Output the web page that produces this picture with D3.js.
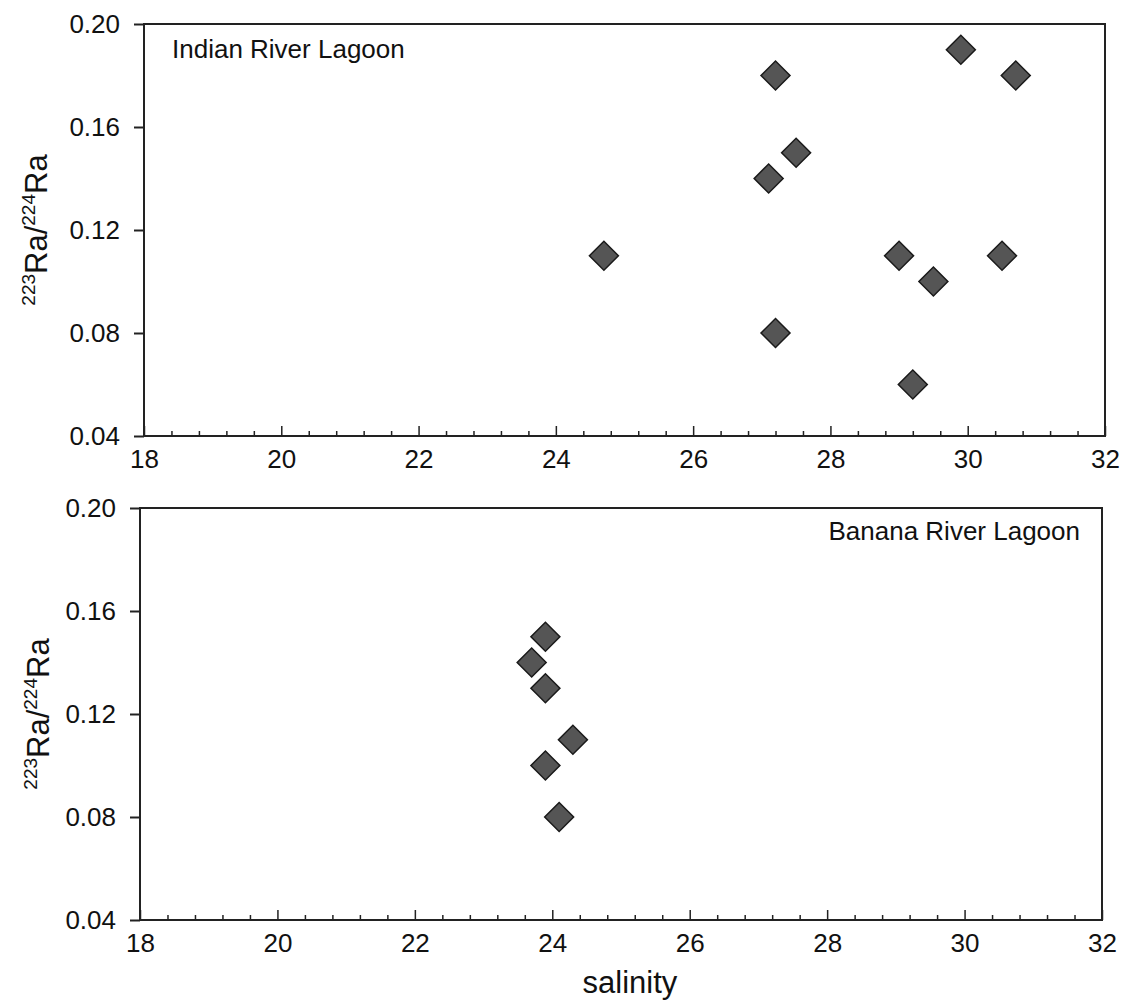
<!DOCTYPE html>
<html>
<head>
<meta charset="utf-8">
<script src="https://cdn.jsdelivr.net/npm/d3@7"></script>
<style>
  body { margin: 0; background: #fff; }
  svg { display: block; font-family: "Liberation Sans", Arial, sans-serif; }
</style>
</head>
<body>
<svg id="chart" width="1123" height="1001"></svg>
<script>
// Indian River Lagoon (top panel)
const irlSalinity = [24.7, 27.2, 27.5, 27.1, 27.2, 29.0, 29.5, 29.2, 29.9, 30.7, 30.5];
const irlRatio    = [0.11, 0.18, 0.15, 0.14, 0.08, 0.11, 0.10, 0.06, 0.19, 0.18, 0.11];

// Banana River Lagoon (bottom panel)
const brlSalinity = [23.9, 23.7, 23.9, 24.3, 23.9, 24.1];
const brlRatio    = [0.15, 0.14, 0.13, 0.11, 0.10, 0.08];

const xTicks = [18, 20, 22, 24, 26, 28, 30, 32];
const yTicks = [0.04, 0.08, 0.12, 0.16, 0.20];

const svg = d3.select('#chart');
const ink = '#222';
const font = '"Liberation Sans", Arial, sans-serif';

const panels = [
  { label: 'Indian River Lagoon', xs: irlSalinity, ys: irlRatio,
    left: 144, right: 1105, top: 24, bottom: 436,
    labelX: 172, labelY: 58, anchor: 'start', titleX: 47, showXTitle: false },
  { label: 'Banana River Lagoon', xs: brlSalinity, ys: brlRatio,
    left: 140, right: 1102, top: 508, bottom: 920,
    labelX: 1080, labelY: 540, anchor: 'end', titleX: 49, showXTitle: true }
];

// minor tick positions every 0.4 salinity units
const minorTicks = d3.range(0, 36).map(i => 18 + i * 0.4)
  .filter(v => Math.abs(v / 2 - Math.round(v / 2)) > 1e-6);

panels.forEach(p => {
  const x = d3.scaleLinear().domain([18, 32]).range([p.left, p.right]);
  const y = d3.scaleLinear().domain([0.04, 0.20]).range([p.bottom, p.top]);

  const g = svg.append('g');

  // frame
  g.append('rect')
    .attr('x', p.left).attr('y', p.top)
    .attr('width', p.right - p.left).attr('height', p.bottom - p.top)
    .attr('fill', 'none').attr('stroke', ink).attr('stroke-width', 2);

  // minor x ticks (inside)
  g.append('g')
    .attr('transform', `translate(0,${p.bottom})`)
    .call(d3.axisBottom(x).tickValues(minorTicks).tickSize(-5).tickFormat(''))
    .call(a => a.select('.domain').remove())
    .selectAll('line').attr('stroke', ink).attr('stroke-width', 1.5);

  // major x ticks
  const xa = g.append('g')
    .attr('transform', `translate(0,${p.bottom})`)
    .call(d3.axisBottom(x).tickValues(xTicks).tickSize(-10).tickSizeOuter(0).tickPadding(14)
      .tickFormat(d3.format('d')));
  xa.select('.domain').remove();
  xa.selectAll('line').attr('stroke', ink).attr('stroke-width', 1.5);
  xa.selectAll('text').attr('font-size', 26).attr('fill', '#111').attr('font-family', font);

  // y axis (outward ticks)
  const ya = g.append('g')
    .attr('transform', `translate(${p.left},0)`)
    .call(d3.axisLeft(y).tickValues(yTicks).tickSize(10).tickSizeOuter(0).tickPadding(14)
      .tickFormat(d3.format('.2f')));
  ya.select('.domain').remove();
  ya.selectAll('line').attr('stroke', ink).attr('stroke-width', 2);
  ya.selectAll('text').attr('font-size', 26).attr('fill', '#111').attr('font-family', font);

  // panel label
  g.append('text')
    .attr('x', p.labelX).attr('y', p.labelY)
    .attr('text-anchor', p.anchor)
    .attr('font-size', 26).attr('fill', '#111')
    .text(p.label);

  // y title with superscripts
  const cy = (p.top + p.bottom) / 2;
  const t = g.append('text')
    .attr('transform', `translate(${p.titleX},${cy}) rotate(-90)`)
    .attr('text-anchor', 'middle')
    .attr('font-size', 31).attr('fill', '#111');
  t.append('tspan').attr('font-size', 19).attr('dy', -12).text('223');
  t.append('tspan').attr('dy', 12).text('Ra/');
  t.append('tspan').attr('font-size', 19).attr('dy', -12).text('224');
  t.append('tspan').attr('dy', 12).text('Ra');

  // points
  const pts = p.xs.map((v, i) => ({ s: v, r: p.ys[i] }));
  g.append('g').selectAll('path')
    .data(pts)
    .join('path')
    .attr('d', d3.symbol(d3.symbolSquare, 420))
    .attr('transform', d => `translate(${x(d.s)},${y(d.r)}) rotate(45)`)
    .attr('fill', '#555')
    .attr('stroke', '#1a1a1a')
    .attr('stroke-width', 1.5);

  if (p.showXTitle) {
    g.append('text')
      .attr('x', 630).attr('y', 993)
      .attr('text-anchor', 'middle')
      .attr('font-size', 31).attr('fill', '#111')
      .text('salinity');
  }
});
</script>
</body>
</html>
